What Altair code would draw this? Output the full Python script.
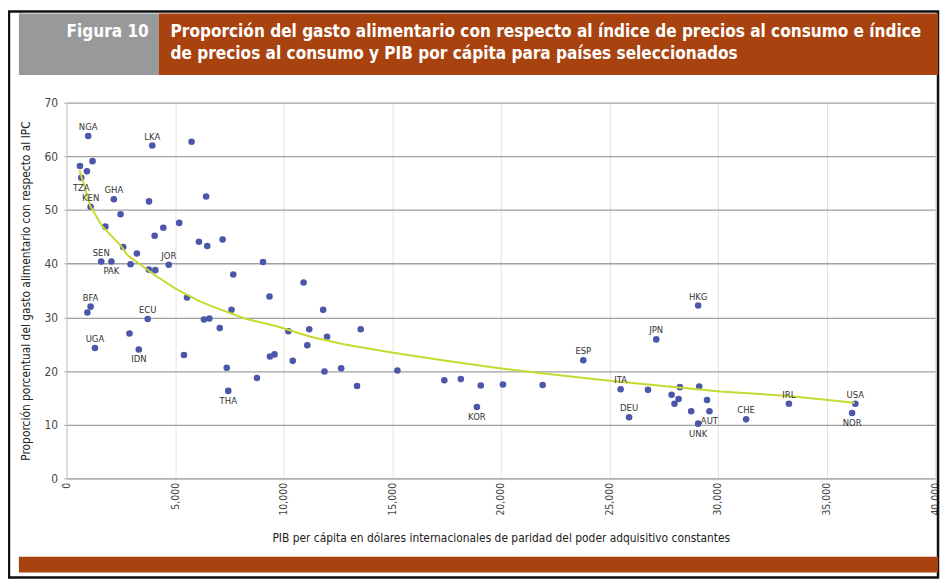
import altair as alt
import pandas as pd

FONT = "Liberation Sans Narrow, DejaVu Sans Condensed, sans-serif"

# ---- data ----
gdp = [1000, 3950, 5760, 620, 1200, 940, 680, 2180, 3800, 1110,
       2490, 1790, 5190, 4460, 4060, 2610, 6430, 6100, 6480, 7190,
       3240, 1600, 2070, 2950, 3790, 4090, 4710, 5550, 1110, 960,
       3740, 2900, 1310, 3330, 5410, 9050, 7680, 10920, 9350, 7600,
       6330, 6580, 7060, 10220, 11180, 11090, 9370, 9580, 10420, 7380,
       8770, 7450, 11820, 12000, 13550, 11880, 12650, 13380, 15240, 17400,
       18160, 19080, 18900, 20100, 21930, 29090, 27160, 23800, 25520, 26780,
       28250, 29140, 27870, 28190, 28000, 29500, 28770, 29610, 29090, 25910,
       31300, 33270, 36330, 36180]
share = [63.8, 62.0, 62.7, 58.2, 59.1, 57.2, 56.0, 52.0, 51.6, 50.6,
         49.2, 46.9, 47.6, 46.7, 45.2, 43.1, 52.5, 44.1, 43.3, 44.5,
         41.9, 40.4, 40.4, 39.9, 38.9, 38.8, 39.8, 33.7, 32.0, 30.9,
         29.7, 27.0, 24.3, 24.0, 23.0, 40.3, 38.0, 36.5, 33.9, 31.4,
         29.6, 29.8, 28.0, 27.4, 27.8, 24.8, 22.7, 23.1, 21.9, 20.6,
         18.7, 16.3, 31.4, 26.4, 27.8, 19.9, 20.5, 17.2, 20.1, 18.3,
         18.5, 17.3, 13.3, 17.5, 17.4, 32.2, 25.9, 22.0, 16.6, 16.5,
         17.0, 17.1, 15.6, 14.8, 13.9, 14.6, 12.5, 12.5, 10.2, 11.4,
         11.0, 13.9, 13.9, 12.2]
code = ["NGA", "LKA", "", "", "", "", "TZA", "GHA", "", "KEN",
        "", "", "", "", "", "", "", "", "", "",
        "", "SEN", "PAK", "", "", "", "JOR", "", "BFA", "",
        "ECU", "", "UGA", "IDN", "", "", "", "", "", "",
        "", "", "", "", "", "", "", "", "", "",
        "", "THA", "", "", "", "", "", "", "", "",
        "", "", "KOR", "", "", "HKG", "JPN", "ESP", "ITA", "",
        "", "", "", "", "", "", "", "AUT", "UNK", "DEU",
        "CHE", "IRL", "USA", "NOR"]
below_labels = ["TZA", "PAK", "IDN", "THA", "KOR", "AUT", "UNK", "NOR"]

trend_x = [600, 1100, 1660, 2490, 2800, 4090, 5000, 6070, 6680, 8200,
           9720, 11240, 12760, 15040, 17320, 19600, 21880, 25000, 27500,
           30100, 33100, 35300, 36300]
trend_y = [57.4, 50.7, 46.9, 43.4, 41.6, 37.8, 35.4, 33.1, 32.1, 29.8,
           28.3, 26.4, 25.0, 23.4, 22.0, 20.7, 19.6, 18.2, 17.2,
           16.2, 15.4, 14.5, 14.1]

x_ticks = list(range(0, 40001, 5000))
y_ticks = list(range(0, 71, 10))

fig_label = "Figura 10"
title_lines = ["Proporción del gasto alimentario con respecto al índice de precios al consumo e índice",
               "de precios al consumo y PIB por cápita para países seleccionados"]
x_title = "PIB per cápita en dólares internacionales de paridad del poder adquisitivo constantes"
y_title = "Proporción porcentual del gasto alimentario con respecto al IPC"

pts = pd.DataFrame({"gdp": gdp, "share": share, "code": code})
pts["below"] = pts["code"].isin(below_labels)
trend = pd.DataFrame({"gdp": trend_x, "share": trend_y})

W, H = 876, 379

xs = alt.Scale(domain=[0, 40000], nice=False)
ys = alt.Scale(domain=[0, 70], nice=False)

x_axis = alt.Axis(values=x_ticks, format=",d", labelAngle=270, title=x_title,
                  grid=True, gridColor="#e2e2e2", gridWidth=1, ticks=False,
                  domainColor="#b0b0b0", labelPadding=4, titlePadding=18,
                  labelFont=FONT, labelFontSize=10.5, labelColor="#444",
                  titleFont=FONT, titleFontSize=12, titleFontWeight="normal",
                  titleColor="#222")
y_axis = alt.Axis(values=y_ticks, title=y_title, grid=True, gridColor="#a0a0a0",
                  gridWidth=1.3, tickSize=3, tickColor="#b0b0b0",
                  domainColor="#c8c8c8", labelPadding=6, titlePadding=12,
                  labelFont=FONT, labelFontSize=12, labelColor="#444",
                  titleFont=FONT, titleFontSize=12, titleFontWeight="normal",
                  titleColor="#222")

base = alt.Chart(pts)

pts_layer = base.mark_circle(size=44, opacity=1, color="#4d57aa").encode(
    x=alt.X("gdp:Q", scale=xs, axis=x_axis),
    y=alt.Y("share:Q", scale=ys, axis=y_axis),
)

trend_layer = alt.Chart(trend).mark_line(color="#c6d930", strokeWidth=2).encode(
    x=alt.X("gdp:Q", scale=xs),
    y=alt.Y("share:Q", scale=ys),
)

lab_above = base.transform_filter(
    (alt.datum.code != "") & (alt.datum.below == False)
).mark_text(font=FONT, fontSize=9.5, color="#333", dy=-9).encode(
    x="gdp:Q", y="share:Q", text="code:N")

lab_below = base.transform_filter(
    (alt.datum.code != "") & (alt.datum.below == True)
).mark_text(font=FONT, fontSize=9.5, color="#333", dy=10).encode(
    x="gdp:Q", y="share:Q", text="code:N")

one = pd.DataFrame({"k": [0]})
deco = alt.Chart(one)

OX, OY = 67, 101  # page position of plot origin

def px(v):
    return v - OX

def py(v):
    return v - OY

frame = deco.mark_rect(fill=None, stroke="#111", strokeWidth=2.5).encode(
    x=alt.value(px(9)), x2=alt.value(px(946)),
    y=alt.value(py(9)), y2=alt.value(py(580)))

gray_box = deco.mark_rect(color="#98999b").encode(
    x=alt.value(px(19)), x2=alt.value(px(160)),
    y=alt.value(py(11)), y2=alt.value(py(73)))
brown_box = deco.mark_rect(color="#a8430f").encode(
    x=alt.value(px(160)), x2=alt.value(px(946)),
    y=alt.value(py(11)), y2=alt.value(py(73)))
bottom_bar = deco.mark_rect(color="#a8430f").encode(
    x=alt.value(px(19)), x2=alt.value(px(946)),
    y=alt.value(py(559)), y2=alt.value(py(575)))

TFS = 17.2
fig_text = deco.mark_text(font=FONT, fontSize=TFS, fontWeight="bold", color="white",
                          align="right", baseline="middle").encode(
    x=alt.value(px(150)), y=alt.value(py(30)), text=alt.value(fig_label))
t1 = deco.mark_text(font=FONT, fontSize=TFS, fontWeight="bold", color="white",
                    align="left", baseline="middle").encode(
    x=alt.value(px(172)), y=alt.value(py(30)), text=alt.value(title_lines[0]))
t2 = deco.mark_text(font=FONT, fontSize=TFS, fontWeight="bold", color="white",
                    align="left", baseline="middle").encode(
    x=alt.value(px(172)), y=alt.value(py(52)), text=alt.value(title_lines[1]))

chart = alt.layer(
    frame, gray_box, brown_box, bottom_bar, fig_text, t1, t2,
    pts_layer, trend_layer, lab_above, lab_below
).properties(
    width=W, height=H,
    autosize=alt.AutoSizeParams(type="none"),
    padding={"left": OX - 8, "top": OY - 8, "right": 940 - (OX - 8) - W,
             "bottom": 571 - (OY - 8) - H},
    background="white",
).configure_view(stroke=None)

chart.save("out.html", embed_options={"renderer": "svg", "actions": False})
